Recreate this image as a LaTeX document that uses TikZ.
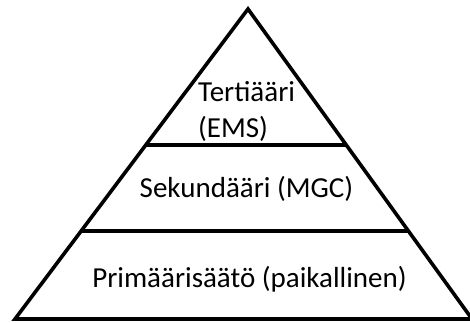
\documentclass[tikz,border=0pt]{standalone}
\usepackage{fontspec}
\setmainfont{Carlito}
\usetikzlibrary{calc}
\begin{document}
\begin{tikzpicture}[x=1pt,y=-1pt,
  edge/.style={line width=3.6pt, line join=miter},
  label/.style={inner sep=0pt, font=\fontsize{29}{36}\selectfont, text=black}]
  \useasboundingbox (0,0) rectangle (470,322);
  % pyramid outline
  \coordinate (apex) at (248,9);
  \coordinate (bl) at (15,319);
  \coordinate (br) at (472,319);
  \draw[edge] (apex) -- (bl) -- (br) -- cycle;
  % level dividers
  \coordinate (l1) at ($(apex)!0.4387!(bl)$);
  \coordinate (r1) at ($(apex)!0.4387!(br)$);
  \coordinate (l2) at ($(apex)!0.716!(bl)$);
  \coordinate (r2) at ($(apex)!0.716!(br)$);
  \draw[edge] (l1) -- (r1);
  \draw[edge] (l2) -- (r2);
  % level labels
  \node[label, anchor=base west, align=left] (ter) at (198,137) {Tertiääri\\(EMS)};
  \node[label, anchor=base] (sek) at (246.5,197) {Sekundääri (MGC)};
  \node[label, anchor=base] (pri) at (249.5,287) {Primäärisäätö (paikallinen)};
\end{tikzpicture}
\end{document}
